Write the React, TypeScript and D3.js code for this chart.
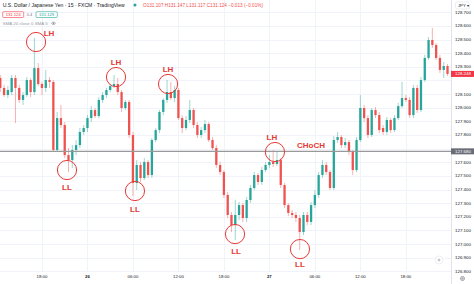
import React from "react";
import * as d3 from "d3";

// ---- data (USD/JPY, 30-minute candles) ----
const START = new Date(2022, 3, 25, 12, 30);
const STEP_MIN = 30;

const opens = [
  128.218, 128.145, 128.093, 128.115, 128.218, 128.145, 128.057, 128.093, 128.203, 128.115,
  128.291, 128.174, 128.145, 128.203, 128.189, 127.690, 127.924, 127.873, 127.653, 127.616,
  127.690, 127.726, 127.822, 127.851, 127.924, 127.983, 127.939, 128.057, 128.093, 128.130,
  128.159, 128.174, 128.115, 127.998, 128.042, 127.800, 127.448, 127.580, 127.484, 127.602,
  127.506, 127.763, 127.836, 127.969, 128.057, 128.115, 128.071, 128.130, 127.924, 127.851,
  127.910, 127.983, 127.873, 127.800, 127.836, 127.880, 127.763, 127.704, 127.580, 127.528,
  127.360, 127.213, 127.139, 127.213, 127.286, 127.191, 127.323, 127.411, 127.506, 127.455,
  127.543, 127.580, 127.602, 127.587, 127.616, 127.433, 127.286, 127.228, 127.213, 127.191,
  127.088, 127.213, 127.162, 127.286, 127.360, 127.506, 127.580, 127.528, 127.411, 127.763,
  127.785, 127.726, 127.748, 127.675, 127.543, 127.763, 127.998, 127.924, 127.800, 127.983,
  127.946, 127.851, 127.822, 127.910, 127.836, 127.924, 128.012, 128.071, 128.057, 127.946,
  128.145, 127.983, 128.203, 128.365, 128.497, 128.460, 128.365, 128.277, 128.306,
];
const highs = [
  128.240, 128.167, 128.159, 128.240, 128.240, 128.167, 128.115, 128.225, 128.218, 128.511,
  128.328, 128.189, 128.277, 128.225, 128.203, 127.969, 128.020, 127.895, 127.704, 127.726,
  127.763, 127.851, 127.873, 127.946, 128.012, 127.998, 128.079, 128.115, 128.145, 128.174,
  128.240, 128.218, 128.130, 128.057, 128.057, 127.822, 127.616, 127.602, 127.631, 127.616,
  127.778, 127.851, 127.983, 128.071, 128.203, 128.189, 128.159, 128.145, 127.946, 127.939,
  128.057, 127.998, 127.895, 127.858, 127.910, 127.895, 127.785, 127.726, 127.602, 127.543,
  127.382, 127.235, 127.323, 127.308, 127.301, 127.345, 127.433, 127.528, 127.521, 127.565,
  127.602, 127.653, 127.690, 127.675, 127.631, 127.448, 127.301, 127.250, 127.235, 127.213,
  127.235, 127.235, 127.308, 127.396, 127.528, 127.616, 127.602, 127.543, 127.792, 127.822,
  127.800, 127.778, 127.763, 127.690, 127.785, 128.093, 128.020, 127.946, 127.998, 128.005,
  127.969, 127.873, 127.932, 127.924, 127.946, 128.035, 128.189, 128.093, 128.079, 128.167,
  128.167, 128.225, 128.387, 128.519, 128.585, 128.475, 128.387, 128.335, 128.321,
];
const lows = [
  128.115, 128.079, 128.071, 128.093, 127.888, 128.035, 128.020, 128.079, 128.079, 128.093,
  128.159, 128.093, 128.115, 128.145, 127.675, 127.675, 127.851, 127.631, 127.528, 127.558,
  127.653, 127.704, 127.800, 127.822, 127.895, 127.924, 127.924, 128.035, 128.071, 128.115,
  128.145, 128.093, 127.969, 127.983, 127.778, 127.352, 127.396, 127.455, 127.470, 127.484,
  127.484, 127.748, 127.814, 127.946, 128.035, 128.057, 128.042, 127.910, 127.814, 127.836,
  127.888, 127.851, 127.778, 127.778, 127.814, 127.748, 127.690, 127.558, 127.506, 127.338,
  127.191, 127.088, 127.029, 127.176, 127.162, 127.162, 127.301, 127.396, 127.433, 127.433,
  127.528, 127.558, 127.565, 127.572, 127.411, 127.264, 127.205, 127.191, 127.162, 126.956,
  127.066, 127.139, 127.139, 127.264, 127.338, 127.484, 127.506, 127.396, 127.396, 127.741,
  127.704, 127.704, 127.653, 127.506, 127.528, 127.748, 127.895, 127.778, 127.785, 127.924,
  127.814, 127.800, 127.800, 127.814, 127.822, 127.910, 127.998, 128.042, 127.924, 127.924,
  127.961, 127.969, 128.189, 128.350, 128.438, 128.350, 128.255, 128.218, 128.233,
];
const closes = [
  128.145, 128.093, 128.130, 128.218, 128.145, 128.057, 128.093, 128.203, 128.115, 128.291,
  128.174, 128.145, 128.203, 128.189, 127.690, 127.924, 127.873, 127.653, 127.616, 127.690,
  127.726, 127.822, 127.851, 127.924, 127.983, 127.939, 128.057, 128.093, 128.130, 128.159,
  128.174, 128.115, 127.998, 128.042, 127.800, 127.448, 127.580, 127.484, 127.602, 127.506,
  127.763, 127.836, 127.969, 128.057, 128.115, 128.071, 128.130, 127.924, 127.851, 127.910,
  127.983, 127.873, 127.800, 127.836, 127.880, 127.763, 127.704, 127.580, 127.528, 127.360,
  127.213, 127.139, 127.213, 127.286, 127.191, 127.323, 127.411, 127.506, 127.455, 127.543,
  127.580, 127.602, 127.587, 127.616, 127.433, 127.286, 127.228, 127.213, 127.191, 127.088,
  127.213, 127.162, 127.286, 127.360, 127.506, 127.580, 127.528, 127.411, 127.763, 127.785,
  127.726, 127.748, 127.675, 127.543, 127.763, 127.998, 127.924, 127.800, 127.983, 127.946,
  127.836, 127.822, 127.910, 127.836, 127.924, 128.012, 128.071, 128.057, 127.946, 128.145,
  127.983, 128.203, 128.365, 128.497, 128.460, 128.365, 128.277, 128.306, 128.248,
];

const priceTicks = [
  128.7, 128.6, 128.5, 128.4, 128.3, 128.1, 128.0, 127.9, 127.8, 127.6,
  127.5, 127.4, 127.3, 127.2, 127.1, 127.0, 126.9, 126.8,
];
const gridPrices = [
  128.7, 128.6, 128.5, 128.4, 128.3, 128.2, 128.1, 128.0, 127.9, 127.8, 127.7, 127.6,
  127.5, 127.4, 127.3, 127.2, 127.1, 127.0, 126.9, 126.8,
];
const timeTickDates = [
  new Date(2022, 3, 25, 18), new Date(2022, 3, 26, 0), new Date(2022, 3, 26, 6),
  new Date(2022, 3, 26, 12), new Date(2022, 3, 26, 18), new Date(2022, 3, 27, 0),
  new Date(2022, 3, 27, 6), new Date(2022, 3, 27, 12), new Date(2022, 3, 27, 18),
];
const timeTickLabels = ["18:00", "26", "06:00", "12:00", "18:00", "27", "06:00", "12:00", "18:00"];

const levelPrice = 127.68;
const lastPrice = 128.248;

const swingLabels = ["LH", "LL", "LH", "LL", "LH", "LL", "LH", "LL"];
const swingTimes = [
  new Date(2022, 3, 25, 17, 13), new Date(2022, 3, 25, 21, 18), new Date(2022, 3, 26, 3, 46),
  new Date(2022, 3, 26, 6, 16), new Date(2022, 3, 26, 10, 38), new Date(2022, 3, 26, 19, 28),
  new Date(2022, 3, 27, 0, 44), new Date(2022, 3, 27, 4, 2),
];
const swingPrices = [128.482, 127.543, 128.225, 127.389, 128.174, 127.073, 127.675, 126.963];
const chochTime = new Date(2022, 3, 27, 5, 30);

const headerTitle = "U.S. Dollar / Japanese Yen · 15 · FXCM · TradingView";
const headerOHLC = "O131.107 H131.147 L131.117 C131.124 −0.013 (−0.01%)";
const bidText = "131.124";
const spreadText = "0.4";
const askText = "131.129";
const indicatorText = "SMA 20 close 0 SMA 5";

const UP = "#26a69a";
const DOWN = "#ef5350";
const ANNO = "#e53935";
const FONT = "'Liberation Sans', Arial, sans-serif";

export default function App() {
  const W = 474;
  const H = 284;
  const plotRight = 451;
  const plotBottom = 268;

  const x = d3
    .scaleTime()
    .domain([new Date(2022, 3, 25, 12, 0), new Date(2022, 3, 28, 0, 0)])
    .range([-3.5, 451.3]);
  const y = d3.scaleLinear().domain([126.8, 128.7]).range([271.3, 12.3]);

  const candles = closes.map((c, i) => ({
    t: d3.timeMinute.offset(START, i * STEP_MIN),
    o: opens[i],
    h: highs[i],
    l: lows[i],
    c,
  }));
  const bw = 2.3;
  const fmt = d3.format(".3f");

  const labelOffsets = [
    [13, -9], [0, 17], [0, -14.5], [0, 18], [0, -14.5], [1, 17], [-3, -15], [0, 15],
  ];

  return (
    <div style={{ position: "absolute", left: 0, top: 0 }}>
      <svg width={W} height={H} style={{ display: "block", background: "#fff" }} fontFamily={FONT}>
        <defs>
          <clipPath id="plot">
            <rect x={0} y={0} width={plotRight} height={plotBottom + 6} />
          </clipPath>
        </defs>
        <rect x={0} y={0} width={W} height={H} fill="#fff" />

        {/* grid */}
        <g stroke="#f0f3fa" strokeWidth={1}>
          {gridPrices.map((p) => (
            <line key={"gh" + p} x1={0} x2={plotRight} y1={Math.round(y(p)) + 0.5} y2={Math.round(y(p)) + 0.5} />
          ))}
          {timeTickDates.map((d, i) => (
            <line key={"gv" + i} x1={Math.round(x(d)) + 0.5} x2={Math.round(x(d)) + 0.5} y1={0} y2={plotBottom + 4} />
          ))}
        </g>

        {/* candles */}
        <g clipPath="url(#plot)">
          {candles.map((d, i) => {
            const up = d.c >= d.o;
            const col = up ? UP : DOWN;
            const cx = x(d.t);
            const top = y(Math.max(d.o, d.c));
            const hgt = Math.max(Math.abs(y(d.o) - y(d.c)), 0.8);
            return (
              <g key={i}>
                <line x1={cx} x2={cx} y1={y(d.h)} y2={y(d.l)} stroke={col} strokeOpacity={0.5} strokeWidth={0.9} />
                <rect x={cx - bw / 2} y={top} width={bw} height={hgt} fill={col} />
              </g>
            );
          })}
        </g>

        {/* horizontal level */}
        <line x1={0} x2={plotRight} y1={y(levelPrice)} y2={y(levelPrice)} stroke="#999" strokeWidth={1.4} />

        {/* swing annotations */}
        <g>
          {swingLabels.map((lab, i) => {
            const cx = x(swingTimes[i]);
            const cy = y(swingPrices[i]);
            const [dx, dy] = labelOffsets[i];
            return (
              <g key={"s" + i}>
                <circle cx={cx} cy={cy} r={9.6} fill="none" stroke={ANNO} strokeWidth={1} />
                <text
                  x={cx + dx}
                  y={cy + dy}
                  fontSize={8}
                  fontWeight="bold"
                  fill={ANNO}
                  textAnchor="middle"
                  dominantBaseline="central"
                >
                  {lab}
                </text>
              </g>
            );
          })}
          <text
            x={x(chochTime)}
            y={y(levelPrice) - 6}
            fontSize={8}
            fontWeight="bold"
            fill={ANNO}
            textAnchor="middle"
            dominantBaseline="central"
          >
            CHoCH
          </text>
        </g>

        {/* price axis */}
        <line x1={plotRight + 0.5} x2={plotRight + 0.5} y1={0} y2={H} stroke="#e0e3eb" strokeWidth={1} />
        <g fontSize={4.4} fill="#131722">
          {priceTicks.map((p) => (
            <text key={"pt" + p} x={455} y={y(p)} dominantBaseline="central">
              {fmt(p)}
            </text>
          ))}
        </g>
        <rect x={451} y={y(lastPrice) - 3} width={23} height={6} fill="#f23645" />
        <text x={455} y={y(lastPrice)} fontSize={4.4} fill="#fff" dominantBaseline="central">
          {fmt(lastPrice)}
        </text>
        <rect x={451} y={y(levelPrice) - 3} width={23} height={6} fill="#6a6d78" />
        <text x={455} y={y(levelPrice)} fontSize={4.4} fill="#fff" dominantBaseline="central">
          {fmt(levelPrice)}
        </text>
        <rect x={455.5} y={2} width={14} height={7} rx={1.5} fill="#fff" stroke="#e0e3eb" strokeWidth={0.6} />
        <text x={458} y={5.5} fontSize={4.2} fill="#131722" dominantBaseline="central">
          JPY ▾
        </text>

        {/* time axis */}
        <g fontSize={4.3} fill="#131722" textAnchor="middle">
          {timeTickDates.map((d, i) => (
            <text
              key={"tt" + i}
              x={x(d)}
              y={276}
              dominantBaseline="central"
              fontWeight={timeTickLabels[i].length === 2 ? "bold" : "normal"}
            >
              {timeTickLabels[i]}
            </text>
          ))}
        </g>
        {/* gear & scroll icons */}
        <g stroke="#787b86" fill="none" strokeWidth={0.7}>
          <circle cx={462.5} cy={278.5} r={2} />
          <circle cx={462.5} cy={278.5} r={0.7} />
        </g>
        <circle cx={439} cy={260} r={4} fill="#fff" stroke="#e0e3eb" strokeWidth={0.6} />
        <circle cx={439} cy={260} r={1} fill="none" stroke="#787b86" strokeWidth={0.5} />

        {/* header */}
        <text x={2.7} y={5.2} fontSize={5} fill="#131722" dominantBaseline="central" textLength={122} lengthAdjust="spacingAndGlyphs">
          {headerTitle}
        </text>
        <circle cx={135} cy={5} r={1.5} fill="#26a69a" />
        <text x={143} y={5.2} fontSize={4.6} fill="#ef5350" dominantBaseline="central" textLength={120} lengthAdjust="spacingAndGlyphs">
          {headerOHLC}
        </text>
        <rect x={2.7} y={11.7} width={21} height={5.8} rx={1} fill="#fff" stroke="#f23645" strokeWidth={0.6} />
        <text x={13.2} y={14.7} fontSize={4.2} fill="#f23645" textAnchor="middle" dominantBaseline="central">
          {bidText}
        </text>
        <text x={29.5} y={14.7} fontSize={4} fill="#787b86" textAnchor="middle" dominantBaseline="central">
          {spreadText}
        </text>
        <rect x={36} y={11.7} width={21.3} height={5.8} rx={1} fill="#fff" stroke="#26a69a" strokeWidth={0.6} />
        <text x={46.6} y={14.7} fontSize={4.2} fill="#26a69a" textAnchor="middle" dominantBaseline="central">
          {askText}
        </text>
        <text x={2.7} y={23.3} fontSize={4.2} fill="#9598a1" dominantBaseline="central" textLength={45} lengthAdjust="spacingAndGlyphs">
          {indicatorText}
        </text>
        <g stroke="#787b86" fill="none" strokeWidth={0.5}>
          <ellipse cx={53.5} cy={23.3} rx={2} ry={1.2} />
          <circle cx={53.5} cy={23.3} r={0.5} fill="#787b86" />
        </g>
      </svg>
    </div>
  );
}
